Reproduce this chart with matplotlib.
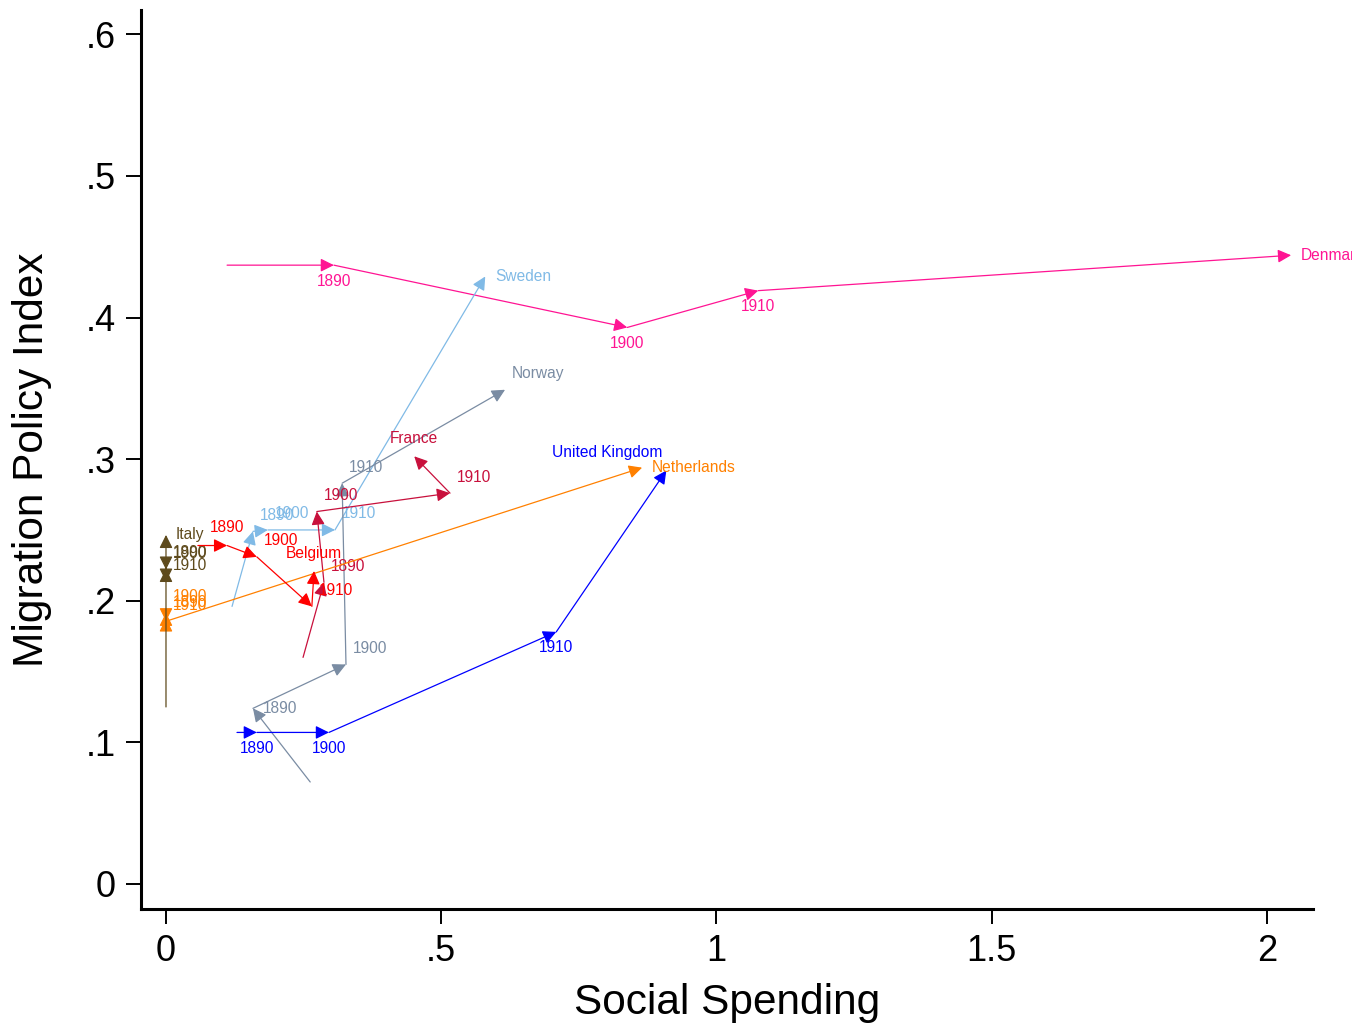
import matplotlib
matplotlib.use('Agg')
import matplotlib.pyplot as plt
from matplotlib.transforms import Bbox, TransformedBbox

plt.rcParams['font.family'] = ['Liberation Sans', 'DejaVu Sans']

# 每个国家的路径：起点 -> 1890 -> 1900 -> 1910 -> 终点（国家名）
point_labels = ['', '1890', '1900', '1910']

denmark_spend = [0.111, 0.305, 0.838, 1.076, 2.044]
denmark_mpi = [0.437, 0.437, 0.393, 0.419, 0.444]

sweden_spend = [0.120, 0.158, 0.185, 0.307, 0.580]
sweden_mpi = [0.196, 0.249, 0.250, 0.250, 0.429]

norway_spend = [0.262, 0.158, 0.327, 0.320, 0.616]
norway_mpi = [0.072, 0.124, 0.155, 0.283, 0.349]

france_spend = [0.249, 0.287, 0.274, 0.516, 0.451]
france_mpi = [0.160, 0.213, 0.263, 0.276, 0.302]

uk_spend = [0.129, 0.165, 0.296, 0.709, 0.909]
uk_mpi = [0.107, 0.107, 0.107, 0.178, 0.292]

netherlands_spend = [0.0, 0.0, 0.0, 0.0, 0.865]
netherlands_mpi = [0.183, 0.1875, 0.1915, 0.1855, 0.294]

italy_spend = [0.0, 0.0, 0.0, 0.0, 0.0]
italy_mpi = [0.125, 0.2225, 0.222, 0.2135, 0.2465]

belgium_spend = [0.058, 0.111, 0.165, 0.265, 0.269]
belgium_mpi = [0.239, 0.239, 0.231, 0.196, 0.221]

x_ticks = [0, 0.5, 1, 1.5, 2]
x_ticklabels = ['0', '.5', '1', '1.5', '2']
y_ticks = [0, 0.1, 0.2, 0.3, 0.4, 0.5, 0.6]
y_ticklabels = ['0', '.1', '.2', '.3', '.4', '.5', '.6']

# 标签位置 (dx, dy 像素, ha)
pos = {
    's': (0, -16, 'center'),
    'n': (0, 18, 'center'),
    'ne': (7, 16, 'left'),
    'e': (10, 0, 'left'),
    'nw': (-4, 18, 'right'),
}

series = [
    ('Denmark', denmark_spend, denmark_mpi, '#FF1493', ['s', 's', 's', 'e']),
    ('Sweden', sweden_spend, sweden_mpi, '#80BAE6', ['ne', 'ne', 'ne', 'e']),
    ('Norway', norway_spend, norway_mpi, '#7A8CA3', ['e', 'ne', 'ne', 'ne']),
    ('France', france_spend, france_mpi, '#C8103C', ['ne', 'ne', 'ne', 'n']),
    ('United Kingdom', uk_spend, uk_mpi, '#0000FF', ['s', 's', 's', 'nw']),
    ('Netherlands', netherlands_spend, netherlands_mpi, '#FF8000', ['ne', 'ne', 'ne', 'e']),
    ('Italy', italy_spend, italy_mpi, '#5E4A1C', ['ne', 'ne', 'ne', 'e']),
    ('Belgium', belgium_spend, belgium_mpi, '#FF0000', ['n', 'ne', 'ne', 'n']),
]

fig = plt.figure(figsize=(13.63, 10.30), dpi=100)
ax = fig.add_axes([141 / 1363, 121 / 1030, 1172 / 1363, 899 / 1030])

# 图形区域右边界，超出的文字被截断
graph_clip = TransformedBbox(Bbox([[0, 0], [1352 / 1363, 1]]), fig.transFigure)

for name, xs, ys, color, lpos in series:
    # 箭头：每一段从上一个点指向下一个点
    for i in range(1, len(xs)):
        ax.annotate('', xy=(xs[i], ys[i]), xytext=(xs[i - 1], ys[i - 1]),
                    arrowprops=dict(arrowstyle='-|>,head_length=0.4,head_width=0.2',
                                    mutation_scale=20, color=color, lw=0.9,
                                    shrinkA=0, shrinkB=0))
    texts = point_labels[1:] + [name]
    for j, t in enumerate(texts):
        dx, dy, ha = pos[lpos[j]]
        txt = ax.annotate(t, xy=(xs[j + 1], ys[j + 1]), xytext=(dx, dy),
                          textcoords='offset pixels', ha=ha, va='center',
                          fontsize=11.2, color=color, annotation_clip=False)
        txt.set_clip_box(graph_clip)
        txt.set_clip_on(True)

ax.set_xlim(-0.0454, 2.0838)
ax.set_ylim(-0.0177, 0.6172)

ax.spines['top'].set_visible(False)
ax.spines['right'].set_visible(False)
ax.spines['left'].set_linewidth(2.2)
ax.spines['bottom'].set_linewidth(2.2)

ax.set_xticks(x_ticks)
ax.set_xticklabels(x_ticklabels)
ax.set_yticks(y_ticks)
ax.set_yticklabels(y_ticklabels)
ax.tick_params(axis='both', length=11, width=1.4, labelsize=26, pad=7)

ax.set_xlabel('Social Spending', fontsize=30.5, labelpad=10)
ax.set_ylabel('Migration Policy Index', fontsize=30.5, labelpad=24)

fig.savefig('out.png', dpi=100)
